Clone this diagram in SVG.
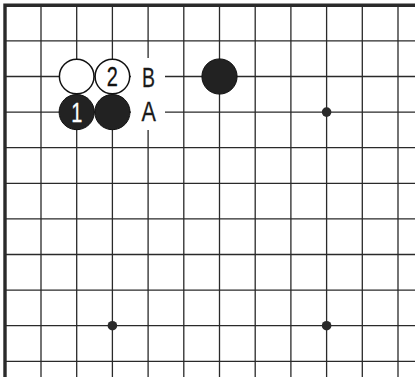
<svg xmlns="http://www.w3.org/2000/svg" width="415" height="377" viewBox="0 0 415 377">
<style>
.g{stroke:#2a2a2a;stroke-width:1.3;fill:none}
.edge{stroke:#2a2a2a;stroke-width:3.4;fill:none}
.star{fill:#2a2a2a}
.bs{fill:#222;stroke:#111;stroke-width:1}
.ws{fill:#fff;stroke:#111;stroke-width:1.5}
.lbl{font-family:"Liberation Sans",Arial,sans-serif;font-size:27px;text-anchor:middle;fill:#1a1a1a;stroke:#1a1a1a;stroke-width:0.3}
.num{font-family:"Liberation Sans",Arial,sans-serif;font-size:27px;text-anchor:middle}
</style>
<rect width="415" height="377" fill="#fff"/>
<g id="grid">
<g class="g">
<path d="M41 5V377M76.7 5V377M112.4 5V377M148.1 5V58M148.1 130V377M183.8 5V377M219.5 5V377M255.2 5V377M290.9 5V377M326.6 5V377M362.3 5V377M398 5V377"/>
<path d="M5 40.9H415M5 76.5H131M165 76.5H415M5 112.1H131M165 112.1H415M5 147.7H415M5 183.3H415M5 218.9H415M5 254.5H415M5 290.1H415M5 325.7H415M5 361.3H415"/>
</g>
<path class="edge" d="M5 377V5.3H415"/>
<circle class="star" cx="326.6" cy="112.1" r="4.8"/>
<circle class="star" cx="112.4" cy="325.7" r="4.8"/>
<circle class="star" cx="326.6" cy="325.7" r="4.8"/>
</g>
<g id="stone-white-1"><circle class="ws" cx="76.7" cy="76.5" r="17.3"/></g>
<g id="stone-white-2"><circle class="ws" cx="112.4" cy="76.5" r="17.3"/><text class="num" transform="translate(112.4 86.2) scale(0.74 1)" fill="#111" stroke="#111" stroke-width="0.3">2</text></g>
<g id="stone-black-1"><circle class="bs" cx="76.7" cy="112.1" r="17.6"/><text class="num" transform="translate(76.7 121.8) scale(0.74 1)" fill="#fff" stroke="#fff" stroke-width="0.3">1</text></g>
<g id="stone-black-2"><circle class="bs" cx="112.4" cy="112.1" r="17.6"/></g>
<g id="stone-black-3"><circle class="bs" cx="219.5" cy="76.5" r="17.6"/></g>
<g id="label-B"><text class="lbl" transform="translate(148.6 86.8) scale(0.72 1)">B</text></g>
<g id="label-A"><text class="lbl" transform="translate(148.8 120.9) scale(0.8 1)">A</text></g>
</svg>
